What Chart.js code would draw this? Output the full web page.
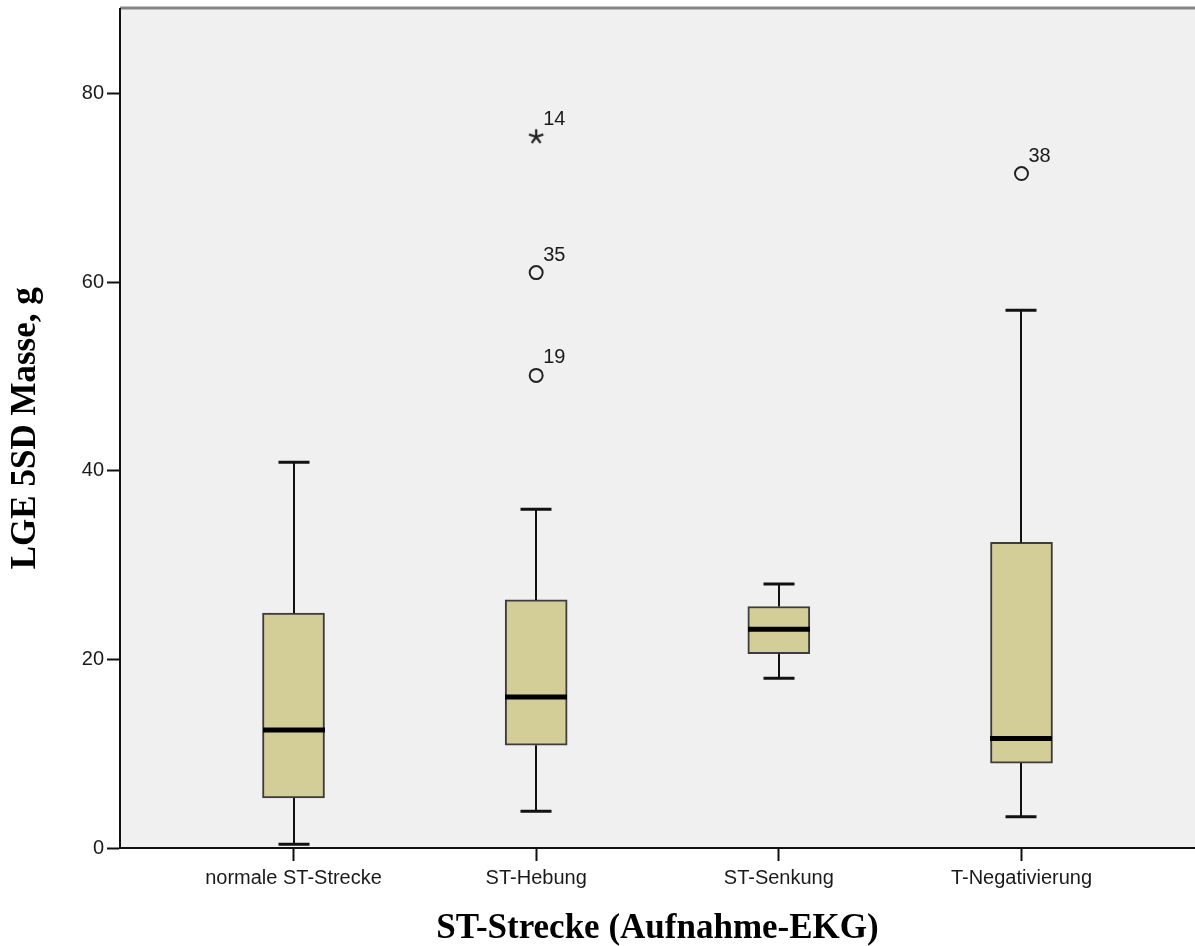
<!DOCTYPE html>
<html>
<head>
<meta charset="utf-8">
<script src="https://cdn.jsdelivr.net/npm/chart.js@4"></script>
<style>
  html, body { margin: 0; padding: 0; background: #fff; }
  #wrap { width: 1195px; height: 946px; }
</style>
</head>
<body>
<div id="wrap"><canvas id="box-chart" width="1195" height="946"></canvas></div>
<script>
// groups on the x axis
const categories = ["normale ST-Strecke", "ST-Hebung", "ST-Senkung", "T-Negativierung"];

// box plot statistics (LGE 5SD Masse, g)
const whiskerLow = [0.4, 3.9, 18.0, 3.3];
const q1 = [5.3, 10.9, 20.6, 9.0];
const median = [12.5, 16.0, 23.2, 11.6];
const q3 = [24.9, 26.3, 25.6, 32.4];
const whiskerHigh = [40.9, 35.9, 28.0, 57.0];

// outliers: group number, value, case label, extreme (star) or not
const outlierGroup = [2, 2, 2, 4];
const outlierValue = [75.4, 61.0, 50.1, 71.5];
const outlierCase = ["14", "35", "19", "38"];
const outlierExtreme = [true, false, false, false];

const yTicks = [0, 20, 40, 60, 80];

// 5-arm asterisk used for extreme values
function makeStar() {
  const c = document.createElement("canvas");
  c.width = 18; c.height = 18;
  const g = c.getContext("2d");
  g.strokeStyle = "#222";
  g.lineWidth = 2.3;
  for (let k = 0; k < 5; k++) {
    const a = -Math.PI / 2 + k * 2 * Math.PI / 5;
    g.beginPath();
    g.moveTo(9, 9);
    g.lineTo(9 + 7.5 * Math.cos(a), 9 + 7.5 * Math.sin(a));
    g.stroke();
  }
  return c;
}
const starImg = makeStar();

// let the plot run up to the right edge of the canvas, like the SPSS export
const fullWidth = {
  id: "fullWidth",
  afterLayout(chart) {
    const xs = chart.scales.x;
    xs.right = chart.width;
    xs.width = xs.right - xs.left;
    xs.configure();
    chart.chartArea.right = chart.width;
    chart.chartArea.width = chart.chartArea.right - chart.chartArea.left;
  }
};

const plotBackground = {
  id: "plotBackground",
  beforeDraw(chart) {
    const { ctx, chartArea: a } = chart;
    ctx.save();
    ctx.fillStyle = "#f0f0f0";
    ctx.fillRect(a.left, a.top, a.right - a.left, a.bottom - a.top);
    ctx.strokeStyle = "#858585";
    ctx.lineWidth = 3;
    ctx.beginPath();
    ctx.moveTo(a.left, a.top - 0.5);
    ctx.lineTo(a.right, a.top - 0.5);
    ctx.stroke();
    ctx.restore();
  }
};

// whiskers, caps and median lines
const boxParts = {
  id: "boxParts",
  afterDatasetsDraw(chart) {
    const { ctx } = chart;
    const xs = chart.scales.x, ys = chart.scales.y;
    ctx.save();
    categories.forEach((c, i) => {
      const cx = Math.round(xs.getPixelForValue(i + 1));
      const half = 31, cap = 15.5;
      ctx.strokeStyle = "#111";
      ctx.lineWidth = 2;
      ctx.beginPath();
      ctx.moveTo(cx, ys.getPixelForValue(q3[i]));
      ctx.lineTo(cx, ys.getPixelForValue(whiskerHigh[i]));
      ctx.moveTo(cx, ys.getPixelForValue(q1[i]));
      ctx.lineTo(cx, ys.getPixelForValue(whiskerLow[i]));
      ctx.stroke();
      ctx.lineWidth = 3;
      ctx.beginPath();
      ctx.moveTo(cx - cap, ys.getPixelForValue(whiskerHigh[i]));
      ctx.lineTo(cx + cap, ys.getPixelForValue(whiskerHigh[i]));
      ctx.moveTo(cx - cap, ys.getPixelForValue(whiskerLow[i]));
      ctx.lineTo(cx + cap, ys.getPixelForValue(whiskerLow[i]));
      ctx.stroke();
      ctx.strokeStyle = "#000";
      ctx.lineWidth = 5;
      ctx.beginPath();
      ctx.moveTo(cx - half, ys.getPixelForValue(median[i]));
      ctx.lineTo(cx + half, ys.getPixelForValue(median[i]));
      ctx.stroke();
    });
    // case numbers next to outliers
    ctx.fillStyle = "#1a1a1a";
    ctx.font = "20px 'Liberation Sans', Arial, sans-serif";
    ctx.textAlign = "left";
    ctx.textBaseline = "alphabetic";
    outlierValue.forEach((v, i) => {
      const px = xs.getPixelForValue(outlierGroup[i]);
      const py = ys.getPixelForValue(v);
      ctx.fillText(outlierCase[i], px + 7, py - 12);
    });
    ctx.restore();
  }
};

const tickFont = { family: "'Liberation Sans', Arial, sans-serif", size: 20 };
const titleFont = { family: "'Liberation Serif', 'Times New Roman', serif", size: 35, weight: "bold", lineHeight: 1 };

new Chart(document.getElementById("box-chart"), {
  type: "bar",
  data: {
    datasets: [
      {
        type: "bar",
        data: categories.map((c, i) => ({ x: i + 1, y: [q1[i], q3[i]] })),
        backgroundColor: "#d3ce98",
        borderColor: "#3c3c3c",
        borderWidth: 2,
        borderSkipped: false,
        barThickness: 62,
        order: 2
      },
      {
        type: "scatter",
        data: outlierValue.map((v, i) => ({ x: outlierGroup[i], y: v })),
        pointStyle: outlierExtreme.map((e) => (e ? starImg : "circle")),
        pointRadius: 6.5,
        pointBorderWidth: 2,
        pointBorderColor: "#222",
        pointBackgroundColor: "rgba(0,0,0,0)",
        order: 1
      }
    ]
  },
  options: {
    responsive: false,
    animation: false,
    layout: { padding: { top: 8, right: 0, bottom: 0, left: 0 } },
    plugins: { legend: { display: false }, tooltip: { enabled: false } },
    scales: {
      x: {
        type: "linear",
        min: 0.285,
        max: 4.715,
        offset: false,
        afterBuildTicks: (axis) => { axis.ticks = categories.map((c, i) => ({ value: i + 1 })); },
        afterFit: (axis) => {
          axis.height = 98;
          axis.paddingLeft = 0;
          axis.paddingRight = 0;
        },
        ticks: {
          autoSkip: false,
          maxRotation: 0,
          padding: 5,
          color: "#1a1a1a",
          font: tickFont,
          callback: (v) => categories[v - 1]
        },
        grid: { offset: false, drawOnChartArea: false, drawTicks: true, tickLength: 13, tickWidth: 2, tickColor: "#111" },
        border: { display: true, color: "#111", width: 2 },
        title: { display: true, text: "ST-Strecke (Aufnahme-EKG)", color: "#000", font: titleFont, padding: { top: 0, bottom: 0 } }
      },
      y: {
        min: 0,
        max: 89,
        afterBuildTicks: (axis) => { axis.ticks = yTicks.map((v) => ({ value: v })); },
        afterFit: (axis) => {
          axis.width = 120;
          axis.paddingTop = 0;
          axis.paddingBottom = 0;
        },
        ticks: { padding: 3, color: "#1a1a1a", font: tickFont },
        grid: { drawOnChartArea: false, drawTicks: true, tickLength: 13, tickWidth: 2, tickColor: "#111" },
        border: { display: true, color: "#111", width: 2 },
        title: { display: true, text: "LGE 5SD Masse, g", color: "#000", font: titleFont, padding: { top: 8, bottom: 0 } }
      }
    }
  },
  plugins: [fullWidth, plotBackground, boxParts]
});
</script>
</body>
</html>
